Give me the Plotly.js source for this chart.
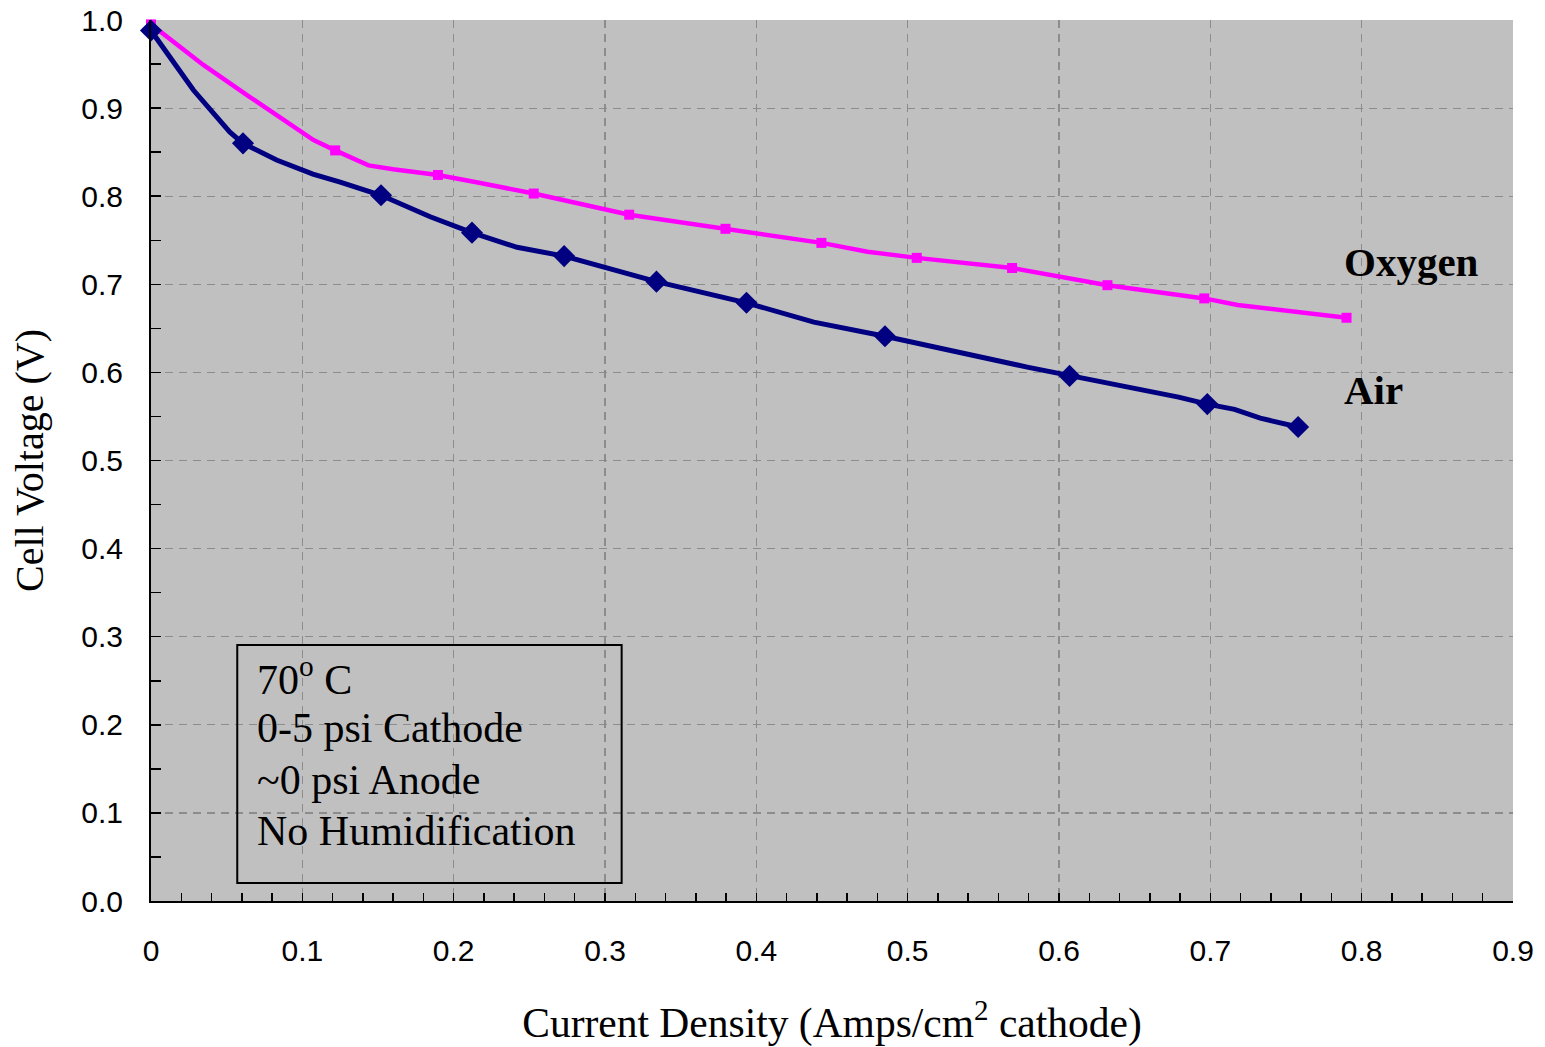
<!DOCTYPE html>
<html>
<head>
<meta charset="utf-8">
<script src="https://cdn.plot.ly/plotly-3.0.1.min.js"></script>
<style>
  html, body { margin: 0; padding: 0; background: #ffffff; }
  #chart { width: 1545px; height: 1047px; }
</style>
</head>
<body>
<div id="chart"></div>
<script>
// Air: full line path (current density A/cm^2, cell voltage V)
const airLineX = [0, 0.028, 0.052, 0.0608, 0.083, 0.107, 0.125, 0.152, 0.1845, 0.2121, 0.2419, 0.273, 0.334, 0.376, 0.3935, 0.438, 0.485, 0.579, 0.594, 0.607, 0.679, 0.698, 0.716, 0.733, 0.758];
const airLineY = [0.988, 0.9205, 0.873, 0.860, 0.841, 0.825, 0.816, 0.801, 0.7767, 0.7586, 0.742, 0.732, 0.703, 0.686, 0.679, 0.657, 0.641, 0.606, 0.601, 0.596, 0.572, 0.564, 0.558, 0.548, 0.538];
// Air: marked points
const airMarkX = [0, 0.0608, 0.152, 0.2121, 0.273, 0.334, 0.3935, 0.485, 0.607, 0.698, 0.758];
const airMarkY = [0.988, 0.860, 0.801, 0.7586, 0.732, 0.703, 0.679, 0.641, 0.596, 0.564, 0.538];

// Oxygen: full line path
const oxyLineX = [0, 0.0346, 0.0644, 0.1074, 0.1217, 0.1437, 0.160, 0.1896, 0.2176, 0.2529, 0.316, 0.3796, 0.443, 0.4735, 0.506, 0.569, 0.601, 0.632, 0.696, 0.718, 0.790];
const oxyLineY = [0.995, 0.949, 0.9137, 0.8638, 0.852, 0.835, 0.8305, 0.8241, 0.815, 0.803, 0.779, 0.763, 0.747, 0.737, 0.730, 0.7185, 0.708, 0.699, 0.684, 0.6765, 0.662];
// Oxygen: marked points
const oxyMarkX = [0, 0.1217, 0.1896, 0.2529, 0.316, 0.3796, 0.443, 0.506, 0.569, 0.632, 0.696, 0.790];
const oxyMarkY = [0.995, 0.852, 0.8241, 0.803, 0.779, 0.763, 0.747, 0.730, 0.7185, 0.699, 0.684, 0.662];

const seriesNames = ["Oxygen", "Air"];
const conditionLines = ["70<sup>o</sup> C", "0-5 psi Cathode", "~0 psi Anode", "No Humidification"];
const xTitle = "Current Density (Amps/cm<sup>2</sup> cathode)";
const yTitle = "Cell Voltage (V)";

const AIR = "#000080", OXY = "#ff00ff";
const serif = "Liberation Serif, Times New Roman, serif";
const sans = "Liberation Sans, Arial, sans-serif";

const traces = [
  {x: oxyLineX, y: oxyLineY, mode: "lines", line: {color: OXY, width: 4.5}, cliponaxis: false, hoverinfo: "skip", showlegend: false},
  {x: oxyMarkX, y: oxyMarkY, mode: "markers", name: seriesNames[0], marker: {symbol: "square", size: 10, color: OXY}, cliponaxis: false, showlegend: false},
  {x: airLineX, y: airLineY, mode: "lines", line: {color: AIR, width: 5}, cliponaxis: false, hoverinfo: "skip", showlegend: false},
  {x: airMarkX, y: airMarkY, mode: "markers", name: seriesNames[1], marker: {symbol: "diamond", size: 17, color: AIR}, cliponaxis: false, showlegend: false}
];

// condition box text: one annotation per line
const boxTop = 0.2545, boxStep = 0.0585;
const boxAnnotations = conditionLines.map((t, i) => ({
  xref: "x", yref: "y", x: 0.0685, y: boxTop - i * boxStep, xanchor: "left", yanchor: "middle", align: "left",
  showarrow: false, text: t, font: {family: serif, size: 42, color: "#000"}
}));

const layout = {
  width: 1545, height: 1047,
  margin: {l: 151, r: 32, t: 20, b: 146},
  paper_bgcolor: "#ffffff",
  plot_bgcolor: "#c0c0c0",
  showlegend: false,
  xaxis: {
    range: [0, 0.9], dtick: 0.1, tick0: 0,
    showline: true, linecolor: "#000", linewidth: 2, mirror: false,
    zeroline: false,
    showgrid: true, gridcolor: "#8c8c8c", gridwidth: 1.2, griddash: "8px,6px",
    ticks: "inside", ticklen: 8, tickcolor: "#000", tickwidth: 1.5,
    minor: {dtick: 0.02, ticks: "inside", ticklen: 8, tickcolor: "#000", tickwidth: 1.5, showgrid: false},
    tickfont: {family: sans, size: 30, color: "#000"},
    ticklabelstandoff: 22,
    title: {text: xTitle, font: {family: serif, size: 41.5, color: "#000"}, standoff: 42},
    automargin: false
  },
  yaxis: {
    range: [0, 1.0], dtick: 0.1, tick0: 0, tickformat: ".1f",
    showline: true, linecolor: "#000", linewidth: 2, mirror: false,
    zeroline: false,
    showgrid: true, gridcolor: "#8c8c8c", gridwidth: 1.2, griddash: "8px,6px",
    ticks: "inside", ticklen: 10, tickcolor: "#000", tickwidth: 1.5,
    minor: {dtick: 0.05, ticks: "inside", ticklen: 10, tickcolor: "#000", tickwidth: 1.5, showgrid: false},
    tickfont: {family: sans, size: 30, color: "#000"},
    ticklabelstandoff: 20,
    title: {text: yTitle, font: {family: serif, size: 40, color: "#000"}, standoff: 25},
    automargin: false
  },
  shapes: [
    {type: "rect", xref: "x", yref: "y", x0: 0.057, x1: 0.311, y0: 0.0204, y1: 0.2906,
     line: {color: "#000", width: 2}, fillcolor: "rgba(0,0,0,0)", layer: "above"}
  ],
  annotations: boxAnnotations.concat([
    {xref: "x", yref: "y", x: 0.787, y: 0.725, xanchor: "left", yanchor: "middle", showarrow: false,
     text: "<b>" + seriesNames[0] + "</b>", font: {family: serif, size: 41, color: "#000"}},
    {xref: "x", yref: "y", x: 0.787, y: 0.58, xanchor: "left", yanchor: "middle", showarrow: false,
     text: "<b>" + seriesNames[1] + "</b>", font: {family: serif, size: 41, color: "#000"}}
  ])
};

Plotly.newPlot("chart", traces, layout, {displayModeBar: false, staticPlot: true});
</script>
</body>
</html>
